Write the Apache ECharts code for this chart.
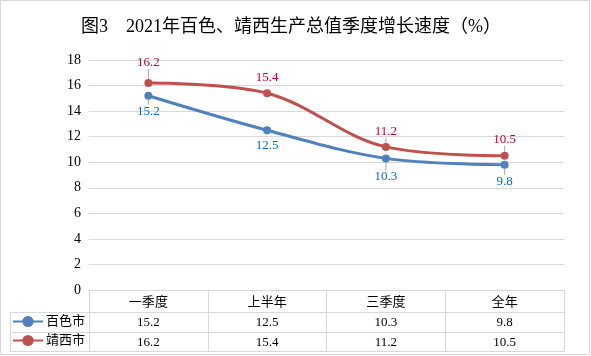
<!DOCTYPE html>
<html><head><meta charset="utf-8">
<script src="https://cdn.jsdelivr.net/npm/echarts@6/dist/echarts.min.js"></script>
<style>html,body{margin:0;padding:0;background:#fff}#c{width:591px;height:356px}</style>
</head><body><div id="c"></div>
<script>
var categories = ['一季度', '上半年', '三季度', '全年'];
var baise = [15.2, 12.5, 10.3, 9.8];
var jingxi = [16.2, 15.4, 11.2, 10.5];
var seriesNames = ['百色市', '靖西市'];
var yTicks = [0, 2, 4, 6, 8, 10, 12, 14, 16, 18];

var SERIF = '"Liberation Serif","Times New Roman",serif';
var CJK = '"Liberation Serif","Noto Sans CJK SC",serif';
var blue = '#4f81bd', red = '#c0504d';
var gridC = '#d9d9d9';
var L = 89, R = 564, T = 60, B = 290;
var rowH = [291, 312, 332, 351];

// label offsets (style only)
var blueDy = [5, 5, 8, 6];
var redDy = [-10, -5, -5, -6];
var blueLine = [true, false, true, true];
var redLine = [true, false, true, true];

function mkData(vals, lines) {
  return vals.map(function (v, i) {
    return { value: v, labelLine: { show: lines[i] } };
  });
}

var chart = echarts.init(document.getElementById('c'), null, { renderer: 'canvas' });
var option = {
  animation: false,
  title: {
    text: '图3　2021年百色、靖西生产总值季度增长速度（%）',
    left: 76, top: 13,
    textStyle: { fontFamily: CJK, fontSize: 18, fontWeight: 'normal', color: '#000' }
  },
  grid: { left: L, right: 591 - R, top: T, bottom: 356 - B },
  legend: {
    orient: 'vertical', left: 12, top: rowH[1] + 3, itemGap: 6, padding: 0,
    itemWidth: 30, itemHeight: 14,
    textStyle: { fontFamily: CJK, fontSize: 13, color: '#000', padding: [0, 0, 0, -2] },
    data: seriesNames
  },
  xAxis: [
    {
      type: 'category', data: categories, position: 'bottom',
      axisLine: { show: true, lineStyle: { color: gridC, width: 1 } },
      axisTick: { show: true, length: rowH[3] - rowH[0] + 1, lineStyle: { color: gridC } },
      axisLabel: { margin: 5, fontFamily: CJK, fontSize: 13, color: '#000', lineHeight: 16 }
    },
    {
      type: 'category', data: baise.map(String), position: 'bottom', offset: rowH[1] - B,
      axisLine: { show: true, lineStyle: { color: gridC } }, axisTick: { show: false },
      axisLabel: { margin: 4, fontFamily: SERIF, fontSize: 13, color: '#000' }
    },
    {
      type: 'category', data: jingxi.map(String), position: 'bottom', offset: rowH[2] - B,
      axisLine: { show: true, lineStyle: { color: gridC } }, axisTick: { show: false },
      axisLabel: { margin: 4, fontFamily: SERIF, fontSize: 13, color: '#000' }
    },
    {
      type: 'category', data: categories, position: 'bottom', offset: rowH[3] - B,
      axisLine: { show: true, lineStyle: { color: gridC } }, axisTick: { show: false },
      axisLabel: { show: false }
    }
  ],
  yAxis: {
    type: 'value', min: 0, max: 18, interval: 2,
    axisLine: { show: false }, axisTick: { show: false },
    axisLabel: { margin: 8, fontFamily: SERIF, fontSize: 14, color: '#000',
      formatter: function (v) { return yTicks.indexOf(v) >= 0 ? String(v) : ''; } },
    splitLine: { lineStyle: { color: gridC, width: 1 } }
  },
  series: [
    {
      name: seriesNames[0], type: 'line', smooth: 0.35, data: mkData(baise, blueLine),
      symbol: 'circle', symbolSize: 8, z: 3,
      itemStyle: { color: blue }, lineStyle: { color: blue, width: 3 },
      label: { show: true, position: 'bottom', distance: 0, fontFamily: SERIF, fontSize: 13, color: '#0070c0' },
      labelLayout: function (p) { return { dy: blueDy[p.dataIndex] }; },
      labelLine: { show: true, lineStyle: { color: '#a6a6a6', width: 1 } }
    },
    {
      name: seriesNames[1], type: 'line', smooth: 0.35, data: mkData(jingxi, redLine),
      symbol: 'circle', symbolSize: 8, z: 4,
      itemStyle: { color: red }, lineStyle: { color: red, width: 3 },
      label: { show: true, position: 'top', distance: 0, fontFamily: SERIF, fontSize: 13, color: '#c00030' },
      labelLayout: function (p) { return { dy: redDy[p.dataIndex] }; },
      labelLine: { show: true, lineStyle: { color: '#a6a6a6', width: 1 } }
    }
  ],
  graphic: [
    { type: 'rect', shape: { x: 0.5, y: 0.5, width: 589, height: 354 }, style: { fill: 'none', stroke: gridC, lineWidth: 1 }, silent: true },
    { type: 'line', shape: { x1: 10.5, y1: rowH[1] + 0.5, x2: L, y2: rowH[1] + 0.5 }, style: { stroke: gridC, lineWidth: 1 } },
    { type: 'line', shape: { x1: 10.5, y1: rowH[2] + 0.5, x2: L, y2: rowH[2] + 0.5 }, style: { stroke: gridC, lineWidth: 1 } },
    { type: 'line', shape: { x1: 10.5, y1: rowH[3] + 0.5, x2: L, y2: rowH[3] + 0.5 }, style: { stroke: gridC, lineWidth: 1 } },
    { type: 'line', shape: { x1: 10.5, y1: rowH[1] + 0.5, x2: 10.5, y2: rowH[3] + 0.5 }, style: { stroke: gridC, lineWidth: 1 } }
  ]
};
chart.setOption(option);
</script></body></html>
